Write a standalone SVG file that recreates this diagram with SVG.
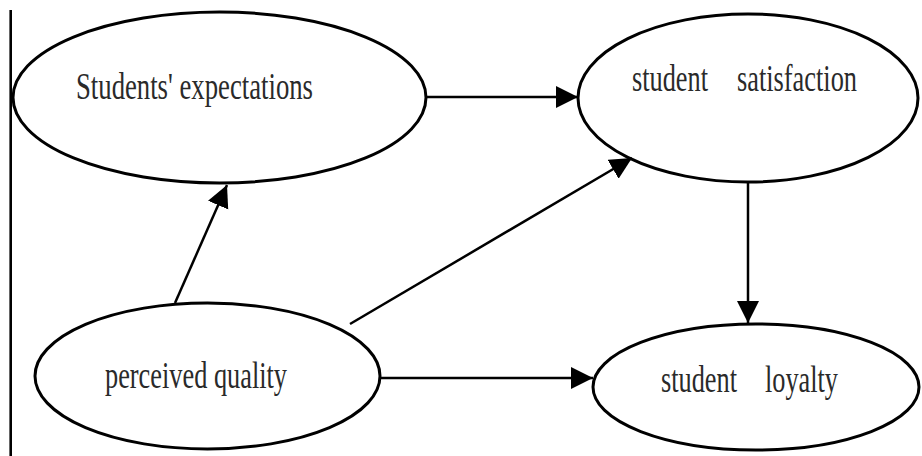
<svg xmlns="http://www.w3.org/2000/svg" width="922" height="456" viewBox="0 0 922 456">
<style>
.node ellipse{fill:#fff;stroke:#000;stroke-width:3}
.lbl{font-family:"Liberation Serif","Times New Roman",serif;font-size:38px;fill:#2a2a2a}
.conn line{stroke:#000;stroke-width:2.5}
</style>
<defs>
<marker id="ah" markerUnits="userSpaceOnUse" markerWidth="24" markerHeight="24" refX="22" refY="11" orient="auto">
<path d="M0,0 L22,11 L0,22 z" fill="#000"/>
</marker>
</defs>
<rect width="922" height="456" fill="#fff"/>
<line x1="10.7" y1="10" x2="10.7" y2="456" stroke="#000" stroke-width="2.6"/>
<g id="expectations" class="node">
<ellipse cx="219.5" cy="97.5" rx="206.5" ry="85.5"/>
<text class="lbl" x="76" y="99" textLength="237" lengthAdjust="spacingAndGlyphs">Students' expectations</text>
</g>
<g id="satisfaction" class="node">
<ellipse cx="748" cy="98" rx="170" ry="84"/>
<text class="lbl" y="91"><tspan x="632" textLength="76" lengthAdjust="spacingAndGlyphs">student</tspan> <tspan x="737" textLength="120" lengthAdjust="spacingAndGlyphs">satisfaction</tspan></text>
</g>
<g id="quality" class="node">
<ellipse cx="207.5" cy="376" rx="172.5" ry="73"/>
<text class="lbl" x="105" y="388" textLength="182" lengthAdjust="spacingAndGlyphs">perceived quality</text>
</g>
<g id="loyalty" class="node">
<ellipse cx="756" cy="387" rx="163" ry="63"/>
<text class="lbl" y="392"><tspan x="661" textLength="76" lengthAdjust="spacingAndGlyphs">student</tspan> <tspan x="765" textLength="73" lengthAdjust="spacingAndGlyphs">loyalty</tspan></text>
</g>
<g id="connectors" class="conn">
<line x1="426" y1="97" x2="578" y2="97" marker-end="url(#ah)"/>
<line x1="175" y1="303" x2="227" y2="185" marker-end="url(#ah)"/>
<line x1="350" y1="324" x2="632" y2="158" marker-end="url(#ah)"/>
<line x1="748" y1="182" x2="748" y2="323" marker-end="url(#ah)"/>
<line x1="380" y1="378" x2="593" y2="378" marker-end="url(#ah)"/>
</g>
</svg>
